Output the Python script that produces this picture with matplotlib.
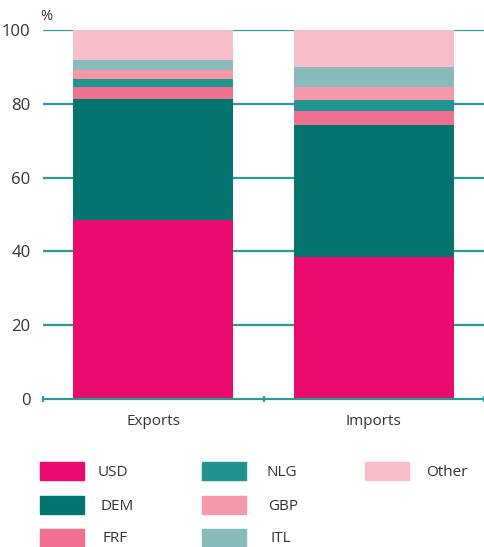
import matplotlib.pyplot as plt
from matplotlib.patches import Rectangle

categories = ['Exports', 'Imports']
series = ['USD', 'DEM', 'FRF', 'NLG', 'GBP', 'ITL', 'Other']
usd = [48.6, 38.4]
dem = [32.7, 35.9]
frf = [3.2, 3.8]
nlg = [2.2, 3.0]
gbp = [2.5, 3.4]
itl = [2.7, 5.6]
other = [8.1, 9.9]
values = [usd, dem, frf, nlg, gbp, itl, other]
colors = ['#EB0A6E', '#037570', '#F07090', '#219490', '#F598AA', '#88BABA', '#F7BEC9']

teal = '#2A9A96'
txt = '#333333'
plt.rcParams['font.family'] = ['Open Sans', 'DejaVu Sans']

fig = plt.figure(figsize=(4.85, 5.47), dpi=100)
ax = fig.add_axes([43 / 485, 1 - 399 / 547, 441 / 485, 369 / 547])

x = list(range(len(categories)))
bottom = [0.0] * len(categories)
for vals, c in zip(values, colors):
    ax.bar(x, vals, bottom=bottom, width=0.725, color=c, zorder=3)
    bottom = [b + v for b, v in zip(bottom, vals)]

ax.set_xlim(-0.5, 1.5)
ax.set_ylim(0, 100)
for y in [20, 40, 60, 80, 100]:
    ax.axhline(y, color=teal, lw=1.6, zorder=1)

for s in ['top', 'right', 'left']:
    ax.spines[s].set_visible(False)
ax.spines['bottom'].set_color(teal)
ax.spines['bottom'].set_linewidth(1.6)
ax.spines['bottom'].set_zorder(4)

ax.set_yticks([0, 20, 40, 60, 80, 100])
ax.tick_params(axis='y', length=0, pad=9, labelsize=12, labelcolor=txt)
ax.set_xticks(x)
ax.set_xticklabels(categories)
ax.tick_params(axis='x', which='major', length=0, pad=11, labelsize=11, labelcolor=txt)
ax.set_xticks([-0.5, 0.5, 1.5], minor=True)
ax.tick_params(axis='x', which='minor', length=4, width=1.6, color=teal, direction='inout')

fig.text(40 / 485, 1 - 16 / 547, '%', fontsize=10.5, color=txt, va='center', ha='left')

# legend, filled column by column
col_x = [40, 202, 365]
text_off = [[58, 61, 63], [64, 66, 68], [61]]
row_y = [471, 505, 538]
for i, (name, c) in enumerate(zip(series, colors)):
    col, row = divmod(i, 3)
    px, py = col_x[col], row_y[row]
    fig.patches.append(Rectangle((px / 485, 1 - (py + 9) / 547), 44 / 485, 18 / 547,
                                 transform=fig.transFigure, color=c, figure=fig))
    fig.text((px + text_off[col][row]) / 485, 1 - (py + 1) / 547, name,
             fontsize=11, color=txt, va='center', ha='left')

fig.savefig('out.png', dpi=100)
